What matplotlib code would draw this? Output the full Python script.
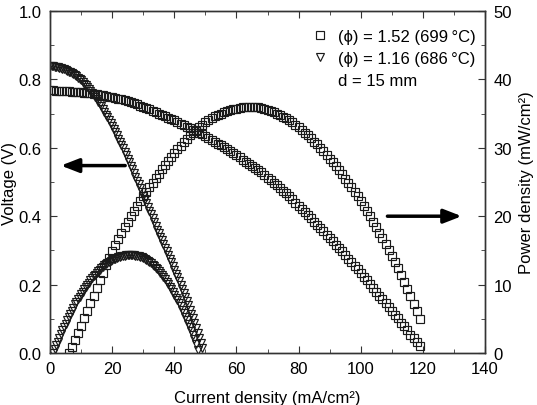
import numpy as np
import matplotlib
matplotlib.use("Agg")
import matplotlib.pyplot as plt
from matplotlib.lines import Line2D
from matplotlib.ticker import MultipleLocator

plt.rcParams['font.family'] = ['Liberation Sans', 'DejaVu Sans']
plt.rcParams['font.size'] = 12

# current sweeps (mA/cm2)
i_sq_v = np.arange(0, 120, 1.0)
i_sq_p = np.arange(6, 120, 1.0)
i_tri_v = np.arange(0, 49.5, 0.5)
i_tri_p = np.arange(1, 48.0, 0.5)

# phi = 1.52 (699 C) : voltage (V)
v_sq = [0.768, 0.768, 0.767, 0.767, 0.766, 0.765, 0.765, 0.764, 0.763, 0.763,
        0.762, 0.761, 0.760, 0.759, 0.758, 0.757, 0.755, 0.753, 0.751, 0.749,
        0.748, 0.746, 0.744, 0.742, 0.740, 0.738, 0.735, 0.731, 0.727, 0.723,
        0.719, 0.716, 0.712, 0.708, 0.704, 0.700, 0.696, 0.692, 0.688, 0.684,
        0.680, 0.676, 0.671, 0.667, 0.662, 0.658, 0.653, 0.649, 0.644, 0.640,
        0.635, 0.629, 0.624, 0.618, 0.612, 0.607, 0.601, 0.596, 0.590, 0.584,
        0.578, 0.572, 0.565, 0.559, 0.553, 0.547, 0.540, 0.534, 0.528, 0.520,
        0.512, 0.505, 0.497, 0.490, 0.482, 0.474, 0.467, 0.459, 0.450, 0.440,
        0.431, 0.422, 0.412, 0.403, 0.394, 0.384, 0.375, 0.365, 0.356, 0.346,
        0.336, 0.327, 0.317, 0.307, 0.297, 0.286, 0.276, 0.265, 0.255, 0.245,
        0.234, 0.223, 0.212, 0.201, 0.190, 0.179, 0.168, 0.157, 0.146, 0.134,
        0.123, 0.112, 0.101, 0.089, 0.078, 0.066, 0.054, 0.043, 0.031, 0.020]

# phi = 1.52 : power density (mW/cm2)
p_sq = [0.0, 0.9, 1.9, 2.9, 4.0, 5.1, 6.2, 7.3, 8.4, 9.5,
        10.6, 11.7, 12.8, 13.9, 14.9, 15.8, 16.7, 17.6, 18.4, 19.2,
        20.0, 20.8, 21.5, 22.2, 22.9, 23.6, 24.3, 24.9, 25.6, 26.2,
        26.9, 27.5, 28.1, 28.7, 29.3, 29.8, 30.3, 30.8, 31.3, 31.8,
        32.2, 32.6, 33.0, 33.4, 33.7, 34.0, 34.3, 34.6, 34.8, 35.0,
        35.2, 35.4, 35.5, 35.6, 35.7, 35.8, 35.9, 35.9, 36.0, 36.0,
        35.9, 35.9, 35.8, 35.7, 35.5, 35.4, 35.2, 35.0, 34.8, 34.5,
        34.3, 34.0, 33.7, 33.3, 33.0, 32.6, 32.2, 31.8, 31.4, 30.9,
        30.5, 30.0, 29.5, 29.0, 28.4, 27.9, 27.3, 26.7, 26.1, 25.5,
        24.9, 24.3, 23.6, 22.9, 22.2, 21.5, 20.8, 20.0, 19.2, 18.4,
        17.6, 16.8, 16.0, 15.1, 14.2, 13.3, 12.4, 11.4, 10.4, 9.4,
        8.3, 7.2, 6.1, 4.9]

# phi = 1.16 (686 C) : voltage (V)
v_tri = [0.838, 0.838, 0.838, 0.837, 0.836, 0.835, 0.834, 0.833, 0.831, 0.829,
         0.827, 0.825, 0.823, 0.821, 0.818, 0.815, 0.812, 0.809, 0.805, 0.801,
         0.797, 0.793, 0.788, 0.783, 0.778, 0.773, 0.767, 0.761, 0.755, 0.749,
         0.742, 0.735, 0.728, 0.721, 0.713, 0.705, 0.697, 0.689, 0.680, 0.672,
         0.663, 0.654, 0.645, 0.636, 0.627, 0.618, 0.608, 0.598, 0.588, 0.578,
         0.568, 0.558, 0.547, 0.537, 0.526, 0.515, 0.504, 0.493, 0.482, 0.471,
         0.460, 0.449, 0.438, 0.427, 0.416, 0.405, 0.394, 0.383, 0.372, 0.361,
         0.350, 0.340, 0.329, 0.319, 0.308, 0.298, 0.287, 0.276, 0.265, 0.254,
         0.243, 0.232, 0.221, 0.210, 0.198, 0.187, 0.175, 0.163, 0.151, 0.139,
         0.127, 0.114, 0.101, 0.087, 0.073, 0.059, 0.044, 0.029, 0.014]

# phi = 1.16 : power density (mW/cm2)
p_tri = [0.0, 0.55, 1.1, 1.65, 2.2, 2.75, 3.3, 3.8, 4.3, 4.8,
         5.3, 5.75, 6.2, 6.65, 7.1, 7.5, 7.9, 8.25, 8.6, 8.95,
         9.3, 9.65, 10.0, 10.3, 10.6, 10.9, 11.2, 11.45, 11.7, 11.95,
         12.2, 12.4, 12.6, 12.8, 13.0, 13.15, 13.3, 13.45, 13.6, 13.7,
         13.8, 13.9, 14.0, 14.1, 14.15, 14.2, 14.25, 14.3, 14.3, 14.3,
         14.3, 14.3, 14.3, 14.25, 14.2, 14.15, 14.1, 14.0, 13.9, 13.75,
         13.6, 13.45, 13.3, 13.1, 12.9, 12.7, 12.5, 12.25, 12.0, 11.7,
         11.4, 11.1, 10.8, 10.45, 10.1, 9.7, 9.3, 8.9, 8.5, 8.1,
         7.7, 7.25, 6.8, 6.3, 5.8, 5.3, 4.8, 4.3, 3.8, 3.25,
         2.7, 2.0, 1.3, 0.5]

labels = ['(\u03d5) = 1.52 (699\u2009\u00b0C)', '(\u03d5) = 1.16 (686\u2009\u00b0C)', 'd = 15 mm']

fig = plt.figure(figsize=(5.37, 4.06), dpi=100)
ax = fig.add_axes([50 / 537, 1 - 354 / 406, 435 / 537, 342 / 406])
ax2 = ax.twinx()

mk = dict(linestyle='none', mfc='none', mec='#1a1a1a', mew=0.85, ms=5.2)
ax.plot(i_sq_v, v_sq, marker='s', **mk)
ax.plot(i_tri_v, v_tri, marker='v', **mk)
ax2.plot(i_sq_p, p_sq, marker='s', **mk)
ax2.plot(i_tri_p, p_tri, marker='v', **mk)

ax.set_xlim(0, 140)
ax.set_ylim(0, 1.0)
ax2.set_ylim(0, 50)
ax.xaxis.set_major_locator(MultipleLocator(20))
ax.xaxis.set_minor_locator(MultipleLocator(10))
ax.yaxis.set_major_locator(MultipleLocator(0.2))
ax.yaxis.set_minor_locator(MultipleLocator(0.1))
ax2.yaxis.set_major_locator(MultipleLocator(10))
ax2.yaxis.set_minor_locator(MultipleLocator(5))
ax.set_yticklabels([f'{v:.1f}' for v in ax.get_yticks()])

for a in (ax, ax2):
    a.tick_params(which='both', direction='in', color='#333333', labelsize=12, pad=6)
    a.tick_params(which='major', length=5)
    a.tick_params(which='minor', length=3)
    for s in a.spines.values():
        s.set_color('#333333')
        s.set_linewidth(1.0)
ax.tick_params(which='both', top=True, right=False)
ax2.tick_params(which='both', right=True)

ax.set_xlabel('Current density (mA/cm\u00b2)', labelpad=10)
ax.set_ylabel('Voltage (V)', labelpad=1)
ax2.set_ylabel('Power density (mW/cm\u00b2)', labelpad=5)

# arrows pointing to the relevant axis
arw = dict(arrowstyle='-|>,head_length=0.9,head_width=0.35', lw=2.5, color='black',
           shrinkA=0, shrinkB=0)
ax.annotate('', xy=(3.5, 0.548), xytext=(24.2, 0.548), arrowprops=arw)
ax.annotate('', xy=(132.5, 0.40), xytext=(108.6, 0.40), arrowprops=arw)

handles = [Line2D([], [], marker='s', **mk), Line2D([], [], marker='v', **mk),
           Line2D([], [], linestyle='none', marker='none')]
ax2.legend(handles, labels, loc='upper right', bbox_to_anchor=(1.016, 0.995), frameon=False,
           numpoints=1, handlelength=1.0, handletextpad=0.6, labelspacing=0.42,
           borderaxespad=0.55, fontsize=12)

fig.savefig('out.png', dpi=100)
